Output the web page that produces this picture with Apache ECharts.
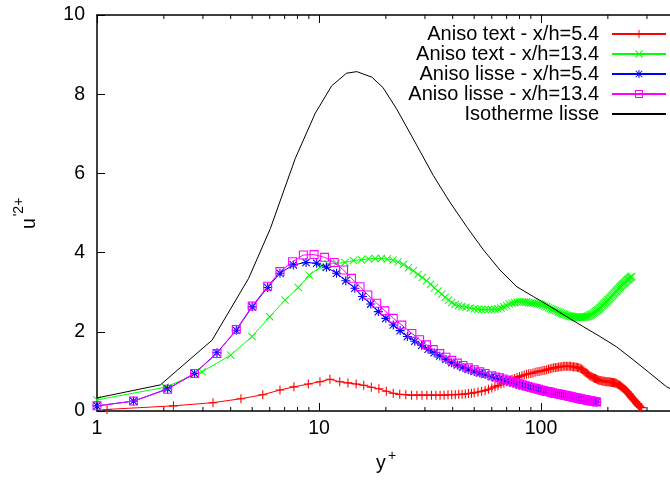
<!DOCTYPE html>
<html>
<head>
<meta charset="utf-8">
<script src="https://cdn.jsdelivr.net/npm/echarts@6/dist/echarts.min.js"></script>
<style>html,body{margin:0;padding:0;background:#fff}#c{width:670px;height:480px}</style>
</head>
<body>
<div id="c"></div>
<script>
// ---- data (y+, u'2+) ----
const seriesNames = ['Aniso text - x/h=5.4', 'Aniso text - x/h=13.4', 'Aniso lisse - x/h=5.4', 'Aniso lisse - x/h=13.4', 'Isotherme lisse'];

const redX = [1.11,2.21,3.33,4.45,5.58,6.67,7.71,8.95,10.1,11.2,12.4,13.5,14.7,15.9,17.2,18.6,20.1,21.6,23.1,24.6,
  26.1,27.6,29.1,30.6,32.1,33.6,35.1,36.6,38.1,39.6,41.1,42.6,44.1,45.6,47.1,48.6,50,52,54,56,58,
  60,62,64,66,68,70,72,74,76,78,
  80,82,84,86,88,90,92,94,96,98,
  100,102,104,106,108,110,112,114,116,118,
  120,122,124,126,128,130,132,134,136,138,
  140,142,144,146,148,150,152,154,156,158,
  160,162,164,166,168,170,172,174,176,178,
  180,182,184,186,188,190,192,194,196,198,
  200,202,204,206,208,210,212,214,216,218,
  220,222,224,226,228,230,232,234,236,238,
  240,242,244,246,248,250,252,254,256,258,
  260,262,264,266,268,270,272,274,276,278,
  280,282,284];
const redY = [0.04,0.13,0.21,0.31,0.41,0.53,0.61,0.68,0.74,0.80,0.74,0.71,0.68,0.65,0.60,0.56,0.50,0.45,0.42,0.41,
  0.40,0.40,0.40,0.40,0.40,0.40,0.40,0.40,0.41,0.41,0.41,0.42,0.42,0.43,0.44,0.45,0.46,0.48,0.50,0.52,0.55,
  0.58,0.61,0.64,0.68,0.71,0.74,0.77,0.80,0.82,0.85,
  0.87,0.89,0.91,0.93,0.94,0.95,0.96,0.98,0.99,1.00,
  1.01,1.02,1.03,1.04,1.06,1.07,1.08,1.09,1.10,1.10,
  1.11,1.12,1.12,1.13,1.13,1.13,1.13,1.13,1.13,1.12,
  1.12,1.11,1.11,1.10,1.09,1.08,1.06,1.04,1.01,0.98,
  0.96,0.94,0.91,0.89,0.87,0.86,0.84,0.83,0.82,0.80,
  0.79,0.78,0.77,0.77,0.76,0.76,0.75,0.75,0.74,0.74,
  0.74,0.73,0.73,0.73,0.72,0.72,0.72,0.71,0.71,0.70,
  0.69,0.67,0.66,0.65,0.63,0.61,0.60,0.58,0.56,0.55,
  0.53,0.51,0.49,0.46,0.44,0.42,0.39,0.37,0.34,0.32,
  0.30,0.28,0.26,0.24,0.22,0.19,0.17,0.15,0.13,0.12,
  0.10,0.09,0.08];

const greenX = [1.0,2.03,2.97,4.0,4.99,6.0,7.03,8.07,9.04,10.1,11.0,12.0,13.1,14.3,15.5,16.7,17.9,19.1,20.3,21.5,
  22.7,24.0,25.3,26.6,27.9,29.2,30.5,31.8,33.1,34.4,35.7,37.0,38.3,39.6,41,42.5,44,46,48,50,52,54,56,58,
  60,62,64,66,68,70,72,74,76,78,
  80,82,84,86,88,90,92,94,96,98,
  100,102,104,106,108,110,112,114,116,118,
  120,122,124,126,128,130,132,134,136,138,
  140,142,144,146,148,150,152,154,156,158,
  160,162,164,166,168,170,172,174,176,178,
  180,182,184,186,188,190,192,194,196,198,
  200,202,204,206,208,210,212,214,216,218,
  220,222,224,226,228,230,232,234,236,238,
  240,242,244,246,248,250,252,254,256];
const greenY = [0.28,0.60,0.99,1.41,1.88,2.38,2.80,3.12,3.43,3.63,3.71,3.73,3.75,3.80,3.82,3.84,3.85,3.85,3.84,3.81,
  3.76,3.70,3.62,3.54,3.45,3.37,3.29,3.20,3.11,3.03,2.95,2.87,2.80,2.74,2.69,2.66,2.64,2.62,2.60,2.58,2.57,2.56,2.56,2.56,
  2.56,2.57,2.58,2.60,2.63,2.66,2.70,2.72,2.74,2.75,
  2.75,2.75,2.75,2.75,2.74,2.73,2.73,2.72,2.71,2.70,
  2.69,2.67,2.65,2.63,2.61,2.59,2.57,2.55,2.54,2.52,
  2.50,2.49,2.47,2.45,2.44,2.42,2.41,2.40,2.39,2.38,
  2.38,2.37,2.37,2.37,2.37,2.37,2.37,2.37,2.37,2.38,
  2.38,2.39,2.40,2.42,2.43,2.45,2.47,2.49,2.51,2.53,
  2.55,2.57,2.60,2.62,2.65,2.67,2.70,2.72,2.75,2.77,
  2.80,2.82,2.85,2.87,2.90,2.92,2.95,2.97,3.00,3.02,
  3.04,3.07,3.09,3.12,3.14,3.16,3.18,3.20,3.22,3.24,
  3.26,3.28,3.30,3.32,3.33,3.35,3.37,3.38,3.40];

const blueX = [1.0,1.46,2.08,2.75,3.47,4.24,5.0,5.87,6.67,7.66,8.74,9.76,10.8,12.0,13.2,14.5,15.7,17.1,18.5,20.0,
  21.6,23.2,25.0,27.0,29.0,31.0,33.0,35.0,37.3,39.6,42,44.5,47,50,53,56,
  60,62.5,65,67.5,70,72.5,75,77.5,80,82.5,85,87.5,90,92.5,95,97.5,
  100,102.5,105,107.5,110,112.5,115,117.5,120,122.5,125,127.5,130,132.5,135,137.5,
  140,142.5,145,147.5,150,152.5,155,157.5,160,162.5,165,167.5,170,172.5,175,178];
const blueY = [0.13,0.25,0.56,0.95,1.47,2.04,2.63,3.12,3.48,3.69,3.75,3.73,3.63,3.48,3.29,3.10,2.89,2.70,2.51,2.34,
  2.17,2.03,1.88,1.76,1.66,1.56,1.47,1.39,1.30,1.22,1.16,1.10,1.05,1.00,0.96,0.92,
  0.87,0.84,0.82,0.79,0.76,0.74,0.71,0.69,0.66,0.64,0.62,0.61,0.59,0.57,0.55,0.54,
  0.52,0.51,0.49,0.48,0.47,0.45,0.44,0.43,0.42,0.41,0.40,0.39,0.38,0.37,0.36,0.35,
  0.34,0.33,0.32,0.31,0.30,0.30,0.29,0.28,0.27,0.27,0.26,0.25,0.25,0.24,0.23,0.22];

const magentaX = [1.0,1.46,2.08,2.75,3.47,4.24,5.0,5.87,6.67,7.6,8.5,9.5,10.6,11.7,12.9,14.0,15.3,16.6,18.2,19.8,
  21.6,23.6,26.2,28.4,30.5,32.7,35,37.3,39.6,42,44.5,47,50,53,56,
  60,62.5,65,67.5,70,72.5,75,77.5,80,82.5,85,87.5,90,92.5,95,97.5,
  100,102.5,105,107.5,110,112.5,115,117.5,120,122.5,125,127.5,130,132.5,135,137.5,
  140,142.5,145,147.5,150,152.5,155,157.5,160,162.5,165,167.5,170,172.5,175,178];
const magentaY = [0.13,0.25,0.55,0.95,1.45,2.06,2.65,3.15,3.52,3.77,3.94,3.95,3.88,3.75,3.56,3.35,3.14,2.93,2.72,2.53,
  2.34,2.17,1.96,1.80,1.67,1.55,1.45,1.36,1.28,1.21,1.15,1.09,1.04,0.99,0.95,
  0.89,0.86,0.84,0.81,0.78,0.76,0.73,0.71,0.68,0.66,0.64,0.62,0.60,0.58,0.57,0.55,
  0.53,0.52,0.50,0.49,0.48,0.46,0.45,0.44,0.43,0.42,0.41,0.40,0.39,0.38,0.37,0.36,
  0.35,0.34,0.33,0.32,0.31,0.30,0.29,0.29,0.28,0.27,0.26,0.26,0.25,0.24,0.24,0.23];

const blackX = [1,1.93,3.3,4.82,6.04,7.82,9.62,11.4,13.3,14.8,17.3,19.4,22.4,27.5,32.7,38.8,46.3,55,65.3,77.7,92.3,110,130.6,155,184.5,219,260.6,310,368,381];
const blackY = [0.33,0.66,1.79,3.35,4.61,6.38,7.52,8.21,8.53,8.57,8.43,8.17,7.62,6.72,5.95,5.28,4.65,4.07,3.56,3.14,2.89,2.64,2.38,2.13,1.88,1.62,1.29,0.95,0.61,0.57];

const xMin = 1, xMax = 381;
const yMin = 0, yMax = 10, yStep = 2;
const minorTicksX = [2,3,4,5,6,7,8,9,20,30,40,50,60,70,80,90,200,300];

// ---- styles ----
const FONT = 'Liberation Sans, Arial, Helvetica, sans-serif';
const colors = ['#ff0000', '#00ff00', '#0000ff', '#ff00ff', '#000000'];
const SYM_PLUS = 'path://M4.4,0H5.6V10H4.4Z M0,4.4H10V5.6H0Z';
const SYM_CROSS = 'path://M0,0.85L0.85,0L10,9.15L9.15,10Z M9.15,0L10,0.85L0.85,10L0,9.15Z';
const SYM_STAR = 'path://M4.4,0H5.6V10H4.4Z M0,4.4H10V5.6H0Z M0.5,1.35L1.35,0.5L9.5,8.65L8.65,9.5Z M8.65,0.5L9.5,1.35L1.35,9.5L0.5,8.65Z';
const SYM_SQUARE = 'path://M0,0H10V10H0Z M1.2,1.2V8.8H8.8V1.2Z';
const symbols = [SYM_PLUS, SYM_CROSS, SYM_STAR, SYM_SQUARE, 'none'];
const symSizes = [9, 8, 9, 9, 0];

function pairs(xs, ys) { return xs.map((x, i) => [x, ys[i]]); }
const allX = [redX, greenX, blueX, magentaX, blackX];
const allY = [redY, greenY, blueY, magentaY, blackY];

const chart = echarts.init(document.getElementById('c'), null, {renderer: 'canvas'});

const lineSeries = seriesNames.map((name, i) => ({
  name: name,
  type: 'line',
  data: pairs(allX[i], allY[i]),
  symbol: symbols[i],
  symbolSize: symSizes[i],
  showSymbol: i < 4,
  showAllSymbol: true,
  lineStyle: {color: colors[i], width: 1},
  itemStyle: {color: colors[i]},
  clip: true,
  z: 2 + i * 0.01,
  silent: true
}));

const legendTops = [24, 44, 64, 84, 104];
const legends = seriesNames.map((name, i) => {
  const lg = {
    data: [name],
    right: 3,
    top: legendTops[i],
    orient: 'vertical',
    align: 'right',
    itemWidth: 54,
    itemHeight: 10,
    itemGap: 0,
    padding: 0,
    selectedMode: false,
    textStyle: {fontSize: 20, fontFamily: FONT, color: '#000', lineHeight: 20, padding: [0, 8, 0, 0]}
  };
  if (i === 4) lg.itemStyle = {opacity: 0};
  return lg;
});

const axisCol = '#000';
const option = {
  animation: false,
  backgroundColor: '#fff',
  grid: {left: 97, right: 0, top: 15, bottom: 69, containLabel: false},
  legend: legends,
  xAxis: [
    {
      type: 'log', logBase: 10, min: xMin, max: xMax, position: 'bottom',
      axisLine: {show: true, lineStyle: {color: axisCol, width: 1.5}},
      axisTick: {show: true, inside: true, length: 8, lineStyle: {color: axisCol, width: 1}},
      axisLabel: {show: true, margin: 8, fontSize: 19.5, fontFamily: FONT, color: '#000', showMaxLabel: false,
                  formatter: v => String(Math.round(v))},
      splitLine: {show: false}, minorTick: {show: false}
    },
    {
      type: 'log', logBase: 10, min: xMin, max: xMax, position: 'top',
      axisLine: {show: true, lineStyle: {color: axisCol, width: 1.5}},
      axisTick: {show: true, inside: true, length: 8, lineStyle: {color: axisCol, width: 1}},
      axisLabel: {show: false}, splitLine: {show: false}
    }
  ],
  yAxis: {
    type: 'value', min: yMin, max: yMax, interval: yStep,
    axisLine: {show: true, lineStyle: {color: axisCol, width: 1.5}},
    axisTick: {show: true, inside: true, length: 8, lineStyle: {color: axisCol, width: 1}},
    axisLabel: {margin: 12, fontSize: 19.5, fontFamily: FONT, color: '#000'},
    splitLine: {show: false}
  },
  series: lineSeries.concat([{
    type: 'custom',
    name: 'minorTicks',
    silent: true,
    data: minorTicksX.map(v => [v, yMin]),
    encode: {x: 0, y: 1},
    clip: false,
    z: 5,
    renderItem: function (params, api) {
      const v = api.value(0);
      const b = api.coord([v, yMin]);
      const t = api.coord([v, yMax]);
      return {
        type: 'group',
        children: [
          {type: 'line', shape: {x1: b[0], y1: b[1], x2: b[0], y2: b[1] - 4}, style: {stroke: axisCol, lineWidth: 1}},
          {type: 'line', shape: {x1: t[0], y1: t[1], x2: t[0], y2: t[1] + 4}, style: {stroke: axisCol, lineWidth: 1}}
        ]
      };
    }
  }]),
  graphic: [
    {type: 'text', left: 376, top: 454, style: {text: 'y', fontSize: 19.5, fontFamily: FONT, fill: '#000'}},
    {type: 'text', left: 388, top: 449, style: {text: '+', fontSize: 14, fontFamily: FONT, fill: '#000'}},
    {type: 'text', x: 30, y: 223.5, rotation: Math.PI / 2,
     style: {text: 'u', fontSize: 19.5, fontFamily: FONT, fill: '#000', align: 'center', verticalAlign: 'middle'}},
    {type: 'text', x: 19, y: 207, rotation: Math.PI / 2,
     style: {text: "'2+", fontSize: 14, fontFamily: FONT, fill: '#000', align: 'center', verticalAlign: 'middle'}}
  ]
};
chart.setOption(option);
</script>
</body>
</html>
